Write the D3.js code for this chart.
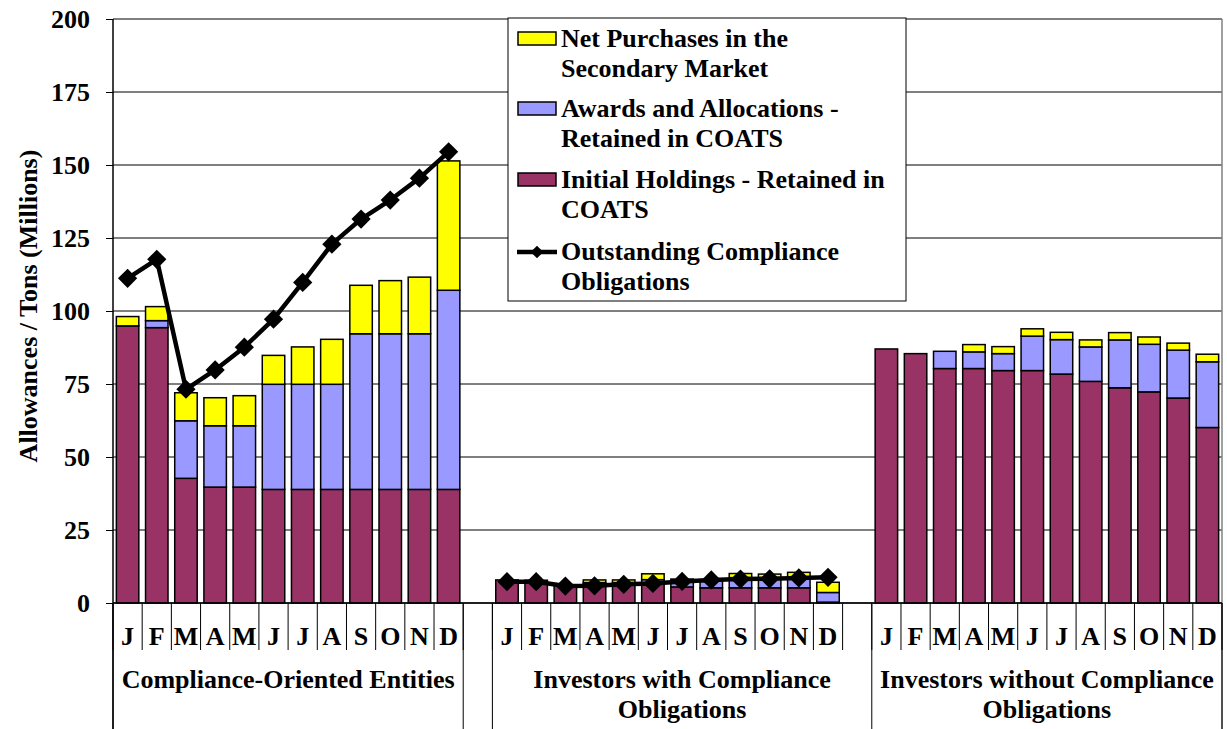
<html>
<head>
<title>Allowances held by entity type</title>
<script src="https://cdn.jsdelivr.net/npm/d3@7"></script>
<style>
  body { margin: 0; background: #fff; }
  text { font-family: "Liberation Serif", "Times New Roman", Tinos, "Nimbus Roman", "Noto Serif", "Liberation Sans", sans-serif; font-weight: bold; fill: #000; }
</style>
</head>
<body>
<div id="chart"></div>
<script>
// month labels and group labels (second level of the category axis)
var months = ['J', 'F', 'M', 'A', 'M', 'J', 'J', 'A', 'S', 'O', 'N', 'D'];
var groupLabels = [
  ['Compliance-Oriented Entities'],
  ['Investors with Compliance', 'Obligations'],
  ['Investors without Compliance', 'Obligations']
];
var yTicks = [0, 25, 50, 75, 100, 125, 150, 175, 200];

// Compliance-Oriented Entities
var coeInitial = [94.9, 94.3, 42.7, 39.7, 39.7, 38.9, 38.9, 38.9, 38.9, 38.9, 38.9, 38.9];
var coeAwards = [0, 2.4, 19.7, 21.0, 21.0, 36.0, 36.0, 36.0, 53.3, 53.3, 53.3, 68.2];
var coeNet = [3.2, 4.8, 9.6, 9.6, 10.3, 9.9, 12.8, 15.4, 16.6, 18.2, 19.4, 44.3];
var coeObligations = [111.2, 117.7, 73.2, 79.8, 87.6, 97.2, 109.8, 122.9, 131.5, 138.0, 145.5, 154.5];

// Investors with Compliance Obligations
var iwcInitial = [7.9, 7.8, 6.2, 6.6, 6.6, 6.8, 5.5, 5.2, 5.2, 5.2, 5.2, 0.3];
var iwcAwards = [0, 0, 0, 0.4, 0.4, 1.2, 2.2, 2.6, 3.5, 3.4, 3.8, 3.3];
var iwcNet = [0, 0, 0, 0.9, 0.9, 2.0, 0.5, 0.2, 1.4, 1.3, 1.5, 3.5];
var iwcObligations = [7.3, 7.3, 5.8, 5.9, 6.4, 6.7, 7.4, 7.9, 8.2, 8.3, 8.6, 8.8];

// Investors without Compliance Obligations
var iwoInitial = [87.0, 85.4, 80.3, 80.3, 79.6, 79.6, 78.4, 75.9, 73.7, 72.3, 70.2, 60.1];
var iwoAwards = [0, 0, 5.9, 5.7, 5.8, 11.8, 11.8, 11.8, 16.4, 16.3, 16.4, 22.5];
var iwoNet = [0, 0, 0, 2.5, 2.4, 2.5, 2.5, 2.4, 2.5, 2.5, 2.4, 2.6];

var seriesKeys = ['initial', 'awards', 'net'];
var seriesColors = { initial: '#993366', awards: '#9999FF', net: '#FFFF00' };

// svg size and plot area
var svgWidth = 1227, svgHeight = 729;
var plotLeft = 113, plotRight = 1222, plotTop = 19, plotBottom = 603;
var fontSize = 26;

// 38 category slots: 12 months, blank, 12 months, blank, 12 months
var groupStart = [0, 13, 26];
var slotCount = 38;
var groupSeries = [
  { initial: coeInitial, awards: coeAwards, net: coeNet, obligations: coeObligations },
  { initial: iwcInitial, awards: iwcAwards, net: iwcNet, obligations: iwcObligations },
  { initial: iwoInitial, awards: iwoAwards, net: iwoNet, obligations: null }
];

var rows = [];
var obligationsBySlot = d3.range(slotCount).map(function() { return null; });
groupSeries.forEach(function(g, gi) {
  months.forEach(function(m, mi) {
    var slot = groupStart[gi] + mi;
    rows.push({ slot: slot, month: m, initial: g.initial[mi], awards: g.awards[mi], net: g.net[mi] });
    if (g.obligations) obligationsBySlot[slot] = g.obligations[mi];
  });
});

var svg = d3.select('#chart')
  .append('svg')
  .attr('width', svgWidth)
  .attr('height', svgHeight);

var x = d3.scaleBand()
  .domain(d3.range(slotCount))
  .range([plotLeft, plotRight])
  .paddingInner(0.23)
  .paddingOuter(0.115);
var step = x.step();
function slotEdge(i) { return plotLeft + i * step; }

var y = d3.scaleLinear().domain([0, 200]).range([plotBottom, plotTop]);

// gridlines
svg.append('g')
  .selectAll('line')
  .data(yTicks)
  .enter()
  .append('line')
  .attr('x1', plotLeft).attr('x2', plotRight)
  .attr('y1', function(d) { return y(d); })
  .attr('y2', function(d) { return y(d); })
  .attr('stroke', '#000')
  .attr('stroke-width', 1);

// right border of plot area
svg.append('line')
  .attr('x1', plotRight).attr('x2', plotRight)
  .attr('y1', plotTop).attr('y2', svgHeight)
  .attr('stroke', '#808080')
  .attr('stroke-width', 1.5);

// stacked bars
var stack = d3.stack().keys(seriesKeys);
var stacked = stack(rows);

svg.append('g')
  .selectAll('g')
  .data(stacked)
  .enter()
  .append('g')
  .attr('fill', function(d) { return seriesColors[d.key]; })
  .selectAll('rect')
  .data(function(d) { return d.filter(function(p) { return p[1] - p[0] > 0; }); })
  .enter()
  .append('rect')
  .attr('x', function(d) { return x(d.data.slot); })
  .attr('width', x.bandwidth())
  .attr('y', function(d) { return y(d[1]); })
  .attr('height', function(d) { return y(d[0]) - y(d[1]); })
  .attr('stroke', '#000')
  .attr('stroke-width', 1.5);

// y axis
var yAxis = d3.axisLeft(y)
  .tickValues(yTicks)
  .tickSize(7)
  .tickPadding(16)
  .tickFormat(d3.format('d'));

var yAxisG = svg.append('g')
  .attr('transform', 'translate(' + plotLeft + ',0)')
  .call(yAxis)
  .attr('font-family', null);
yAxisG.select('.domain').remove();
yAxisG.selectAll('.tick line').attr('stroke', '#000');
yAxisG.selectAll('.tick text')
  .attr('font-size', fontSize)
  .attr('dy', '0.34em');

// y axis line, which also runs down as the first category separator
svg.append('line')
  .attr('x1', plotLeft).attr('x2', plotLeft)
  .attr('y1', plotTop).attr('y2', svgHeight)
  .attr('stroke', '#000')
  .attr('stroke-width', 1.5);

// x axis baseline
svg.append('line')
  .attr('x1', plotLeft).attr('x2', plotRight)
  .attr('y1', plotBottom).attr('y2', plotBottom)
  .attr('stroke', '#000')
  .attr('stroke-width', 1.5);

// month-level separators
svg.append('g')
  .selectAll('line')
  .data(d3.range(slotCount + 1))
  .enter()
  .append('line')
  .attr('x1', slotEdge).attr('x2', slotEdge)
  .attr('y1', plotBottom).attr('y2', 650)
  .attr('stroke', '#000')
  .attr('stroke-width', 1);

// group-level separators
var groupEdges = [0, 12, 13, 26, 38];
svg.append('g')
  .selectAll('line')
  .data(groupEdges)
  .enter()
  .append('line')
  .attr('x1', slotEdge).attr('x2', slotEdge)
  .attr('y1', plotBottom).attr('y2', svgHeight)
  .attr('stroke', '#000')
  .attr('stroke-width', 1);

// month labels
svg.append('g')
  .selectAll('text')
  .data(rows)
  .enter()
  .append('text')
  .attr('x', function(d) { return x(d.slot) + x.bandwidth() / 2; })
  .attr('y', 645)
  .attr('text-anchor', 'middle')
  .attr('font-size', fontSize)
  .text(function(d) { return d.month; });

// group labels
var groupSpans = [[0, 12], [13, 26], [26, 38]];
groupLabels.forEach(function(lines, gi) {
  var cx = (slotEdge(groupSpans[gi][0]) + slotEdge(groupSpans[gi][1])) / 2;
  var t = svg.append('text')
    .attr('text-anchor', 'middle')
    .attr('font-size', fontSize);
  lines.forEach(function(line, li) {
    t.append('tspan')
      .attr('x', cx)
      .attr('y', 688 + li * 30)
      .text(line);
  });
});

// outstanding compliance obligations line
var line = d3.line()
  .defined(function(d) { return d != null; })
  .x(function(d, i) { return x(i) + x.bandwidth() / 2; })
  .y(function(d) { return y(d); });

svg.append('path')
  .attr('d', line(obligationsBySlot))
  .attr('fill', 'none')
  .attr('stroke', '#000')
  .attr('stroke-width', 4.5)
  .attr('stroke-linejoin', 'round');

var diamond = d3.symbol().type(d3.symbolSquare).size(185);
svg.append('g')
  .selectAll('path')
  .data(obligationsBySlot.map(function(v, i) { return { slot: i, value: v }; })
    .filter(function(d) { return d.value != null; }))
  .enter()
  .append('path')
  .attr('d', diamond)
  .attr('transform', function(d) {
    return 'translate(' + (x(d.slot) + x.bandwidth() / 2) + ',' + y(d.value) + ') rotate(45)';
  })
  .attr('fill', '#000');

// y axis title
svg.append('text')
  .attr('transform', 'translate(37,' + ((plotTop + plotBottom) / 2 - 5) + ') rotate(-90)')
  .attr('text-anchor', 'middle')
  .attr('font-size', fontSize)
  .text('Allowances / Tons (Millions)');

// legend
var legend = svg.append('g').attr('transform', 'translate(508,18)');
legend.append('rect')
  .attr('width', 398)
  .attr('height', 283)
  .attr('fill', '#fff')
  .attr('stroke', '#000')
  .attr('stroke-width', 1);

var legendItems = [
  { key: 'net', lines: ['Net Purchases in the', 'Secondary Market'], baseline: 29 },
  { key: 'awards', lines: ['Awards and Allocations -', 'Retained in COATS'], baseline: 99 },
  { key: 'initial', lines: ['Initial Holdings - Retained in', 'COATS'], baseline: 170 },
  { key: 'obligations', lines: ['Outstanding Compliance', 'Obligations'], baseline: 242 }
];

legendItems.forEach(function(item) {
  var cy = item.baseline - 8;
  if (item.key === 'obligations') {
    legend.append('line')
      .attr('x1', 9).attr('x2', 49)
      .attr('y1', cy).attr('y2', cy)
      .attr('stroke', '#000')
      .attr('stroke-width', 4.5);
    legend.append('path')
      .attr('d', d3.symbol().type(d3.symbolSquare).size(80))
      .attr('transform', 'translate(29,' + cy + ') rotate(45)')
      .attr('fill', '#000');
  } else {
    legend.append('rect')
      .attr('x', 10).attr('y', cy - 7)
      .attr('width', 38).attr('height', 13)
      .attr('fill', seriesColors[item.key])
      .attr('stroke', '#000')
      .attr('stroke-width', 1.5);
  }
  var t = legend.append('text').attr('font-size', fontSize);
  item.lines.forEach(function(l, li) {
    t.append('tspan')
      .attr('x', 53)
      .attr('y', item.baseline + li * 30)
      .text(l);
  });
});
</script>
</body>
</html>
